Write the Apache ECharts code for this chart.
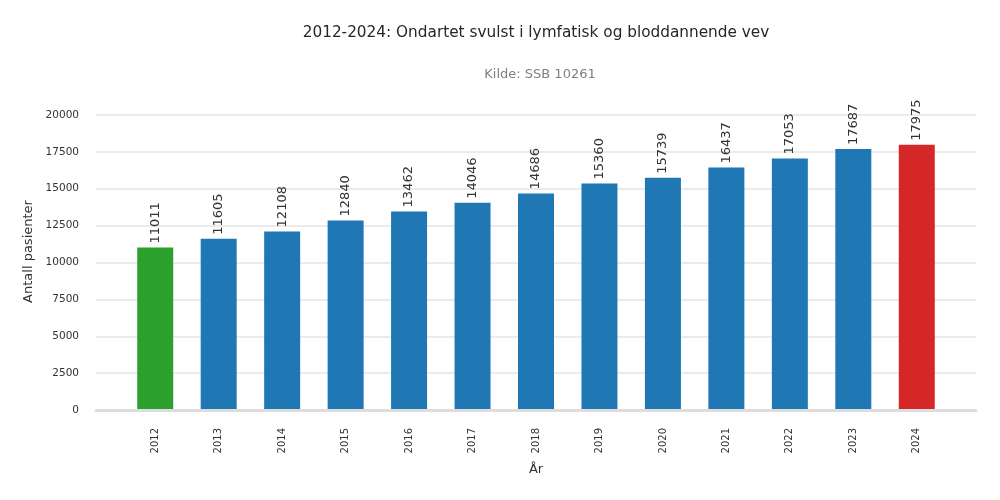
<!DOCTYPE html>
<html><head><meta charset="utf-8">
<script src="https://cdn.jsdelivr.net/npm/echarts@6/dist/echarts.min.js"></script>
<style>html,body{margin:0;padding:0;background:#fff}#c{width:1000px;height:500px}</style>
</head><body><div id="c"></div>
<script>
var years = ['2012','2013','2014','2015','2016','2017','2018','2019','2020','2021','2022','2023','2024'];
var patients = [11011, 11605, 12108, 12840, 13462, 14046, 14686, 15360, 15739, 16437, 17053, 17687, 17975];
var yTicks = [0, 2500, 5000, 7500, 10000, 12500, 15000, 17500, 20000];
var colorFirst = '#2ca02c', colorMid = '#1f77b4', colorLast = '#d62728';
var FONT = 'DejaVu Sans';

var chart = echarts.init(document.getElementById('c'));
var yMax = yTicks[yTicks.length - 1];
var yStep = yTicks[1] - yTicks[0];
chart.setOption({
  animation: false,
  textStyle: {fontFamily: FONT},
  title: [
    {text: '2012-2024: Ondartet svulst i lymfatisk og bloddannende vev', left: 531, top: 21, textAlign: 'center',
     textStyle: {fontFamily: FONT, fontSize: 15.3, fontWeight: 'normal', color: '#262626'}},
    {text: 'Kilde: SSB 10261', left: 535, top: 63, textAlign: 'center',
     textStyle: {fontFamily: FONT, fontSize: 13, fontWeight: 'normal', color: '#808080'}}
  ],
  grid: [
    {left: 96, right: 24, top: 115, bottom: 90},
    {left: 123.5, right: 51.5, top: 115, bottom: 90}
  ],
  xAxis: [
    {gridIndex: 0, type: 'value', min: 0, max: 1, show: true, z: 5,
     axisLine: {show: true, onZero: false, lineStyle: {color: '#dddddd', width: 3}},
     axisTick: {show: false}, axisLabel: {show: false}, splitLine: {show: false}},
    {gridIndex: 1, type: 'category', data: years,
     axisLine: {show: false}, axisTick: {show: false},
     axisLabel: {rotate: 90, fontSize: 10, color: '#333', margin: 18, fontFamily: FONT},
     name: 'År', nameLocation: 'middle', nameGap: 53,
     nameTextStyle: {fontSize: 13, color: '#333', fontFamily: FONT}}
  ],
  yAxis: [
    {gridIndex: 0, type: 'value', min: 0, max: yMax, interval: yStep,
     axisLine: {show: false}, axisTick: {show: false},
     axisLabel: {fontSize: 10.5, color: '#333', margin: 17, fontFamily: FONT,
                 formatter: function (v) { return String(v); }},
     splitLine: {lineStyle: {color: '#ebebeb', width: 2}},
     name: 'Antall pasienter', nameLocation: 'middle', nameGap: 54,
     nameTextStyle: {fontSize: 13, color: '#333', fontFamily: FONT, padding: [0, 0, 0, 22]}},
    {gridIndex: 1, type: 'value', min: 0, max: yMax, interval: yStep, show: false}
  ],
  series: [{
    type: 'bar', xAxisIndex: 1, yAxisIndex: 1, barWidth: 36,
    data: patients.map(function (v, i) {
      var c = i === 0 ? colorFirst : (i === patients.length - 1 ? colorLast : colorMid);
      return {value: v, itemStyle: {color: c}};
    }),
    label: {show: true, position: 'top', rotate: 90, align: 'left', verticalAlign: 'middle', distance: 4,
            fontSize: 13, color: '#333', fontFamily: FONT}
  }]
});
</script></body></html>
